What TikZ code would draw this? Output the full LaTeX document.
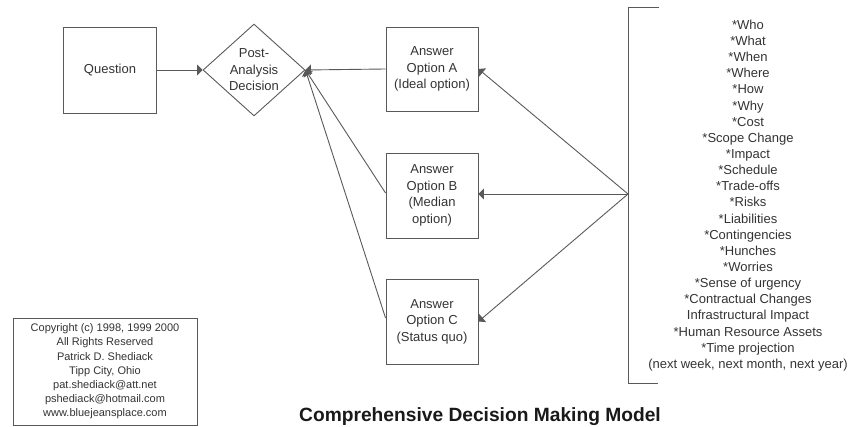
\documentclass[tikz,border=0pt]{standalone}
\usepackage{fontspec}
\setmainfont{Liberation Sans}
\usepackage{tikz}
\usetikzlibrary{shapes.geometric, arrows}

\tikzset{
	optbox/.style={draw=black!65, line width=.9pt, minimum width=92pt, minimum height=85pt, align=center, text=black!80, inner sep=2pt, font=\fontsize{13}{16.5}\selectfont},
	conn/.style={draw=black!65, line width=.9pt, -triangle 90}
}

\begin{document}
\begin{tikzpicture}[x=1pt, y=-1pt]
			\useasboundingbox (0,0) rectangle (867,427);
			%pregunta y decision
			\node[optbox, minimum width=93pt, minimum height=86pt] (question) at (110,70) {Question};
			\node[optbox, diamond, minimum width=102pt, minimum height=86pt, inner sep=0pt] (decision) at (254,70) {Post-\\Analysis\\Decision};
			\draw[conn] (question) -- (decision.west);
			
			%opciones
			\node[optbox, minimum height=84pt] (optA) at (432,69) {Answer\\Option A\\(Ideal option)};
			\node[optbox] (optB) at (432,195.5) {Answer\\Option B\\(Median\\option)};
			\node[optbox] (optC) at (432,321.5) {Answer\\Option C\\(Status quo)};
			\draw[conn] (optA.west) -- (decision.east);
			\draw[conn] (optB.west |- 0,193) -- (decision.east);
			\draw[conn] (optC.west |- 0,318) -- (decision.east);
			
			%corchete con factores
			\draw[draw=black!65, line width=.9pt] (659,7) -- (628,7) -- (628,383) -- (658,383);
			\coordinate (hub) at (628,194);
			\draw[conn] (hub) -- (optA.east);
			\draw[conn] (hub) -- (optB.east |- hub);
			\draw[conn] (hub) -- (optC.east);
			\node[align=center, text=black!80, font=\fontsize{13}{16.14}\selectfont] (factors) at (748,195.5) {*Who\\*What\\*When\\*Where\\*How\\*Why\\*Cost\\*Scope Change\\*Impact\\*Schedule\\*Trade-offs\\*Risks\\*Liabilities\\*Contingencies\\*Hunches\\*Worries\\*Sense of urgency\\*Contractual Changes\\Infrastructural Impact\\*Human Resource Assets\\*Time projection\\(next week, next month, next year)};
			
			%copyright y titulo
			\node[optbox, minimum width=184pt, minimum height=107pt, font=\fontsize{11}{14.2}\selectfont] (copyright) at (105,371.5) {Copyright (c) 1998, 1999 2000\\All Rights Reserved\\Patrick D. Shediack\\Tipp City, Ohio\\pat.shediack@att.net\\pshediack@hotmail.com\\www.bluejeansplace.com};
			\node[font=\bfseries\fontsize{19.2}{22}\selectfont, text=black!90] (title) at (480,417) {Comprehensive Decision Making Model};
	\end{tikzpicture}
\end{document}
